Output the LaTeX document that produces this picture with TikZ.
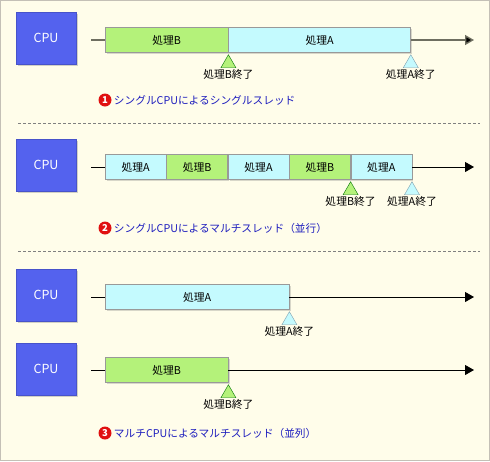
\documentclass[tikz,border=0pt]{standalone}
\usepackage{fontspec}
\setmainfont{Noto Sans CJK JP}
\usepackage{xcolor}
\usepackage{tikz}
\usetikzlibrary{calc, positioning, shadows, arrows.meta}

\definecolor{bgcream}{RGB}{255,253,234}
\definecolor{framegray}{RGB}{196,192,182}
\definecolor{cpublue}{RGB}{84,98,238}
\definecolor{procgreen}{RGB}{180,242,122}
\definecolor{proccyan}{RGB}{196,250,254}
\definecolor{capblue}{RGB}{30,30,190}
\definecolor{numred}{RGB}{224,16,16}
\definecolor{axisgray}{RGB}{110,110,96}

\tikzset{
  cpu/.style={draw=cpublue!85!black, fill=cpublue, minimum width=60pt, minimum height=52pt,
    text=white, font=\fontsize{12.5}{14}\selectfont,
    drop shadow={shadow xshift=2pt, shadow yshift=-2pt, opacity=0.35}},
  proc/.style={draw=gray!80, minimum height=25pt, inner sep=0pt, anchor=west,
    font=\fontsize{10.8}{12}\selectfont,
    drop shadow={shadow xshift=1.5pt, shadow yshift=-1.5pt, opacity=0.3}},
  procA/.style={proc, fill=proccyan},
  procB/.style={proc, fill=procgreen},
  markA/.style={draw=gray!70!cyan, fill=proccyan},
  markB/.style={draw=green!45!black, fill=procgreen},
  endlbl/.style={inner sep=1pt, font=\fontsize{10.8}{12}\selectfont},
  numc/.style={circle, fill=numred, text=white, minimum size=13pt, inner sep=0pt,
    font=\fontsize{9.5}{10}\selectfont\bfseries},
  caption/.style={inner sep=0pt, text=capblue, font=\fontsize{10.7}{12}\selectfont},
  sep/.style={draw=gray, dashed, dash pattern=on 3pt off 2pt},
  timeline/.style={-{Triangle[length=9pt,width=10pt]}, thick}
}

\begin{document}
\begin{tikzpicture}[x=1pt, y=-1pt]
    % =================================================================
    % Khung nền
    % =================================================================
    \useasboundingbox (0,0) rectangle (490,461);
    \draw[framegray, fill=bgcream] (0.5,0.5) rectangle (489.5,460.5);

    % =================================================================
    % 1. シングルCPUによるシングルスレッド
    % =================================================================
    \node[cpu] (cpu1) at (46,38) {CPU};
    \coordinate (s1) at (91,40);
    \coordinate (e1) at (474,40);
    \node[procB, minimum width=123pt] (b1) at (105,40) {処理B};
    \node[procA, minimum width=182pt, right=0pt of b1] (a1) {処理A};
    \draw[axisgray, line width=1.4pt] (s1) -- (b1);
    \draw[timeline, axisgray, line width=1.4pt, -{Triangle[length=9pt,width=10pt,fill=black]}] (a1) -- (e1);
    % Dấu kết thúc
    \draw[markB] ($(b1.south east)+(0,2)$) -- ++(7.5,13) -- ++(-15,0) -- cycle;
    \draw[markA] ($(a1.south east)+(0,2)$) -- ++(7.5,13) -- ++(-15,0) -- cycle;
    \node[endlbl, below=16pt of b1.south east] (endB1) {処理B終了};
    \node[endlbl, below=16pt of a1.south east] (endA1) {処理A終了};
    \node[numc] (n1) at (105,100) {1};
    \node[caption, right=2pt of n1] (c1) {シングルCPUによるシングルスレッド};

    \draw[sep] (18,123) -- (480,123);

    % =================================================================
    % 2. シングルCPUによるマルチスレッド（並行）
    % =================================================================
    \node[cpu] (cpu2) at (46,165) {CPU};
    \coordinate (s2) at (91,167);
    \coordinate (e2) at (474,167);
    \node[procA, minimum width=61pt] (a21) at (105,167) {処理A};
    \node[procB, minimum width=61pt, right=0pt of a21] (b21) {処理B};
    \node[procA, minimum width=61pt, right=0pt of b21] (a22) {処理A};
    \node[procB, minimum width=61pt, right=0pt of a22] (b22) {処理B};
    \node[procA, minimum width=61pt, right=0pt of b22] (a23) {処理A};
    \draw (s2) -- (a21);
    \draw[timeline] (a23) -- (e2);
    \draw[markB] ($(b22.south east)+(0,2)$) -- ++(7.5,13) -- ++(-15,0) -- cycle;
    \draw[markA] ($(a23.south east)+(0,2)$) -- ++(7.5,13) -- ++(-15,0) -- cycle;
    \node[endlbl, below=16pt of b22.south east] (endB2) {処理B終了};
    \node[endlbl, below=16pt of a23.south east] (endA2) {処理A終了};
    \node[numc] (n2) at (105,228) {2};
    \node[caption, right=2pt of n2] (c2) {シングルCPUによるマルチスレッド（並行）};

    \draw[sep] (18,251) -- (480,251);

    % =================================================================
    % 3. マルチCPUによるマルチスレッド（並列）
    % =================================================================
    \node[cpu] (cpu3) at (46,295) {CPU};
    \coordinate (s3) at (91,297);
    \coordinate (e3) at (474,297);
    \node[procA, minimum width=184pt] (a3) at (105,297) {処理A};
    \draw (s3) -- (a3);
    \draw[timeline] (a3) -- (e3);
    \draw[markA] ($(a3.south east)+(0,2)$) -- ++(7.5,13) -- ++(-15,0) -- cycle;
    \node[endlbl, below=16pt of a3.south east] (endA3) {処理A終了};

    \node[cpu] (cpu4) at (46,369) {CPU};
    \coordinate (s4) at (91,370);
    \coordinate (e4) at (474,370);
    \node[procB, minimum width=123pt] (b4) at (105,370) {処理B};
    \draw (s4) -- (b4);
    \draw[timeline] (b4) -- (e4);
    \draw[markB] ($(b4.south east)+(0,2)$) -- ++(7.5,13) -- ++(-15,0) -- cycle;
    \node[endlbl, below=16pt of b4.south east] (endB4) {処理B終了};
    \node[numc] (n3) at (105,433) {3};
    \node[caption, right=2pt of n3] (c3) {マルチCPUによるマルチスレッド（並列）};
\end{tikzpicture}
\end{document}
